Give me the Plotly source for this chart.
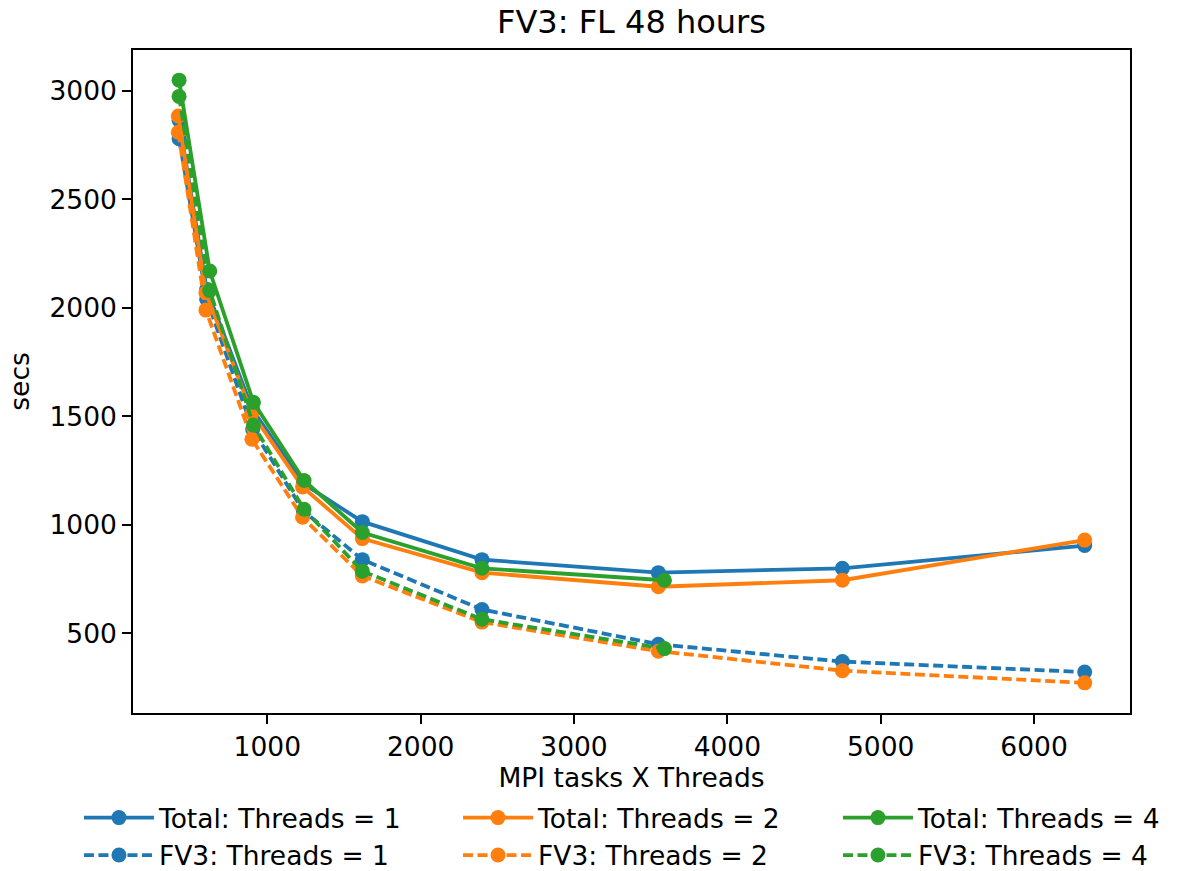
import plotly.graph_objects as go

# ---- data ----
x_t1 = [425, 605, 905, 1235, 1620, 2400, 3550, 4750, 6330]
x_t2 = [420, 600, 900, 1230, 1620, 2400, 3550, 4750, 6330]
x_t4 = [425, 625, 910, 1240, 1620, 2400, 3590]

total_t1 = [2865, 2085, 1530, 1190, 1015, 840, 780, 800, 905]
fv3_t1 = [2780, 2040, 1440, 1065, 840, 610, 450, 370, 322]
total_t2 = [2885, 2070, 1515, 1175, 937, 780, 715, 745, 930]
fv3_t2 = [2810, 1990, 1395, 1035, 765, 552, 418, 328, 272]
total_t4 = [3050, 2170, 1565, 1205, 965, 800, 745]
fv3_t4 = [2975, 2080, 1460, 1072, 787, 565, 430]

x_ticks = [1000, 2000, 3000, 4000, 5000, 6000]
y_ticks = [500, 1000, 1500, 2000, 2500, 3000]

title = "FV3: FL 48 hours"
x_title = "MPI tasks X Threads"
y_title = "secs"

BLUE, ORANGE, GREEN = "#1f77b4", "#ff7f0e", "#2ca02c"
FONT = "DejaVu Sans"
FS = 26.5
DASH = "10px,4.5px"

series = [
    ("Total: Threads = 1", x_t1, total_t1, BLUE, "solid", "legend"),
    ("FV3: Threads = 1", x_t1, fv3_t1, BLUE, DASH, "legend"),
    ("Total: Threads = 2", x_t2, total_t2, ORANGE, "solid", "legend2"),
    ("FV3: Threads = 2", x_t2, fv3_t2, ORANGE, DASH, "legend2"),
    ("Total: Threads = 4", x_t4, total_t4, GREEN, "solid", "legend3"),
    ("FV3: Threads = 4", x_t4, fv3_t4, GREEN, DASH, "legend3"),
]

fig = go.Figure()
for name, xs, ys, col, dash, leg in series:
    fig.add_trace(go.Scatter(
        x=xs, y=ys, name=name, mode="lines+markers",
        line=dict(color=col, width=3.8, dash=dash),
        marker=dict(color=col, size=15),
        legend=leg,
    ))

all_x = x_t1 + x_t2 + x_t4
all_y = total_t1 + fv3_t1 + total_t2 + fv3_t2 + total_t4 + fv3_t4
xpad = 0.05 * (max(all_x) - min(all_x))
ypad = 0.05 * (max(all_y) - min(all_y))

axis_common = dict(
    showgrid=False, zeroline=False, showline=True, linecolor="black",
    linewidth=1.6, mirror=True, ticks="outside", ticklen=9, tickwidth=1.6,
    tickcolor="black", tickfont=dict(family=FONT, size=FS, color="black"),
)

leg_common = dict(orientation="v", xanchor="left", yanchor="top",
                  y=-0.122, yref="paper", itemwidth=70, tracegroupgap=0,
                  bgcolor="rgba(0,0,0,0)",
                  font=dict(family=FONT, size=FS, color="black"))

fig.update_layout(
    width=1177, height=871,
    margin=dict(l=133, r=47, t=50, b=158, autoexpand=False),
    plot_bgcolor="white", paper_bgcolor="white",
    font=dict(family=FONT, size=FS, color="black"),
    title=dict(text=title, x=0.5365, xanchor="center", y=1 - 22 / 871,
               yanchor="middle", yref="container",
               font=dict(family=FONT, size=32, color="black")),
    xaxis=dict(range=[min(all_x) - xpad, max(all_x) + xpad],
               tickvals=x_ticks, ticktext=[str(v) for v in x_ticks],
               title=dict(text=x_title, standoff=8,
                          font=dict(family=FONT, size=FS, color="black")),
               **axis_common),
    yaxis=dict(range=[min(all_y) - ypad, max(all_y) + ypad],
               tickvals=y_ticks, ticktext=[str(v) for v in y_ticks],
               title=dict(text=y_title, standoff=12,
                          font=dict(family=FONT, size=FS, color="black")),
               **axis_common),
    legend=dict(x=-0.0542, **leg_common),
    legend2=dict(x=0.3260, **leg_common),
    legend3=dict(x=0.7071, **leg_common),
    showlegend=True,
)

fig.write_html("out.html")
